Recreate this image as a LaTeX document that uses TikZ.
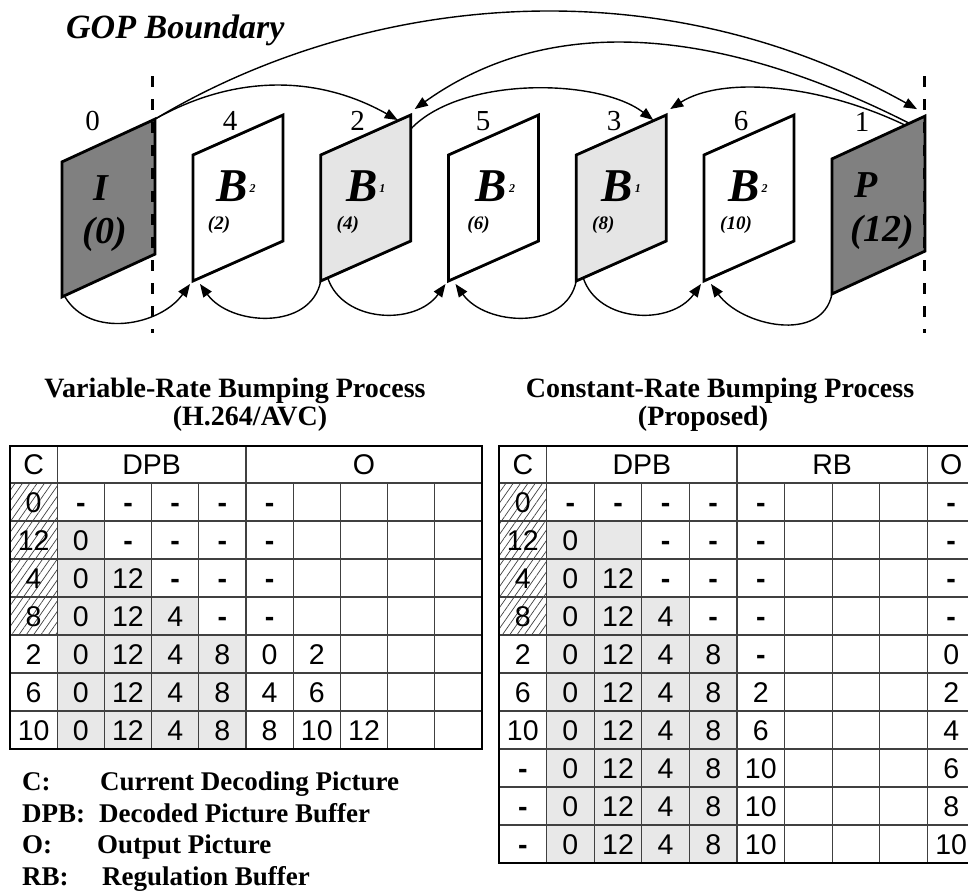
\documentclass[tikz,border=0pt]{standalone}
\usepackage{fontspec}
\setmainfont{Liberation Serif}
\newfontfamily\tabfont{Liberation Sans}
\usetikzlibrary{arrows.meta,patterns.meta}

\definecolor{keygray}{gray}{0.5}
\definecolor{bgray}{gray}{0.9}
\definecolor{cellgray}{gray}{0.91}

\newcommand{\tdash}{\textbf{-}}

\tikzset{
  framebase/.style={draw, line width=2.8pt, inner sep=0pt, outer sep=0pt},
  picframe/.style={framebase, minimum width=90pt, minimum height=126pt, yslant=0.444},
  keyframe/.style={framebase, fill=keygray, minimum width=93pt,
    minimum height=135pt, yslant=0.46},
  ordnum/.style={font=\fontsize{29}{29}\selectfont, inner sep=0pt, anchor=base},
  ptype/.style={font=\fontsize{38}{38}\selectfont\bfseries\itshape, inner sep=0pt},
  btype/.style={font=\fontsize{47}{47}\selectfont\bfseries\itshape, inner sep=0pt},
  dispnum/.style={font=\fontsize{19}{19}\selectfont\bfseries\itshape, inner sep=0pt},
  refarrow/.style={-{Triangle[length=13pt,width=10pt]}, line width=1.4pt},
  boundary/.style={line width=3pt, dash pattern=on 11pt off 12pt},
  heading/.style={font=\fontsize{28}{28}\selectfont\bfseries, inner sep=0pt, anchor=base},
  keytext/.style={font=\fontsize{27}{27}\selectfont\bfseries, inner sep=0pt, anchor=base west},
  cell/.style={font=\tabfont\fontsize{28.5}{28.5}\selectfont, inner sep=0pt,
    text height=20pt, text depth=0pt},
  thinrule/.style={line width=1.2pt, draw=black!75},
  tableborder/.style={line width=2.4pt},
  hatch/.style={pattern={Lines[angle=55,distance=6pt,line width=0.7pt]}, pattern color=black!75},
}

\begin{document}
\begin{tikzpicture}[x=1pt,y=-1pt]
\useasboundingbox (0,0) rectangle (968,892);
\clip (0,0) rectangle (968,892);

\node[font=\fontsize{34}{34}\selectfont\bfseries\itshape, inner sep=0pt, anchor=base west] (gop) at (66,38) {GOP Boundary};

% pictures in display order, named by coding order
\node[keyframe] (f0) at (108.5,208) {};
\node[picframe, fill=white] (f4) at (238,198) {};
\node[picframe, fill=bgray] (f2) at (365.75,198) {};
\node[picframe, fill=white] (f5) at (493.5,198) {};
\node[picframe, fill=bgray] (f3) at (621.25,198) {};
\node[picframe, fill=white] (f6) at (749,198) {};
\node[keyframe] (f1) at (878.5,205) {};

\node[ordnum] (o0) at (92.5,130) {0};
\node[ordnum] (o4) at (230,130) {4};
\node[ordnum] (o2) at (357.5,130) {2};
\node[ordnum] (o5) at (483,130) {5};
\node[ordnum] (o3) at (614,130) {3};
\node[ordnum] (o6) at (741,130) {6};
\node[ordnum] (o1) at (862,131) {1};

\node[ptype] (t0) at ([xshift=-7.5pt,yshift=20pt]f0.center) {I};
\node[ptype] (d0) at ([xshift=-3.5pt,yshift=-26pt]f0.center) {(0)};
\node[btype] (t4) at ([xshift=-2pt,yshift=12pt]f4.center) {B\kern2pt\raisebox{9pt}{\fontsize{12}{12}\selectfont 2}};
\node[dispnum] (d4) at ([xshift=-19pt,yshift=-27pt]f4.center) {(2)};
\node[btype] (t2) at ([xshift=0pt,yshift=12pt]f2.center) {B\kern2pt\raisebox{9pt}{\fontsize{12}{12}\selectfont 1}};
\node[dispnum] (d2) at ([xshift=-18pt,yshift=-27pt]f2.center) {(4)};
\node[btype] (t5) at ([xshift=2pt,yshift=12pt]f5.center) {B\kern2pt\raisebox{9pt}{\fontsize{12}{12}\selectfont 2}};
\node[dispnum] (d5) at ([xshift=-15pt,yshift=-27pt]f5.center) {(6)};
\node[btype] (t3) at ([xshift=0pt,yshift=12pt]f3.center) {B\kern2pt\raisebox{9pt}{\fontsize{12}{12}\selectfont 1}};
\node[dispnum] (d3) at ([xshift=-18pt,yshift=-27pt]f3.center) {(8)};
\node[btype] (t6) at ([xshift=-1pt,yshift=12pt]f6.center) {B\kern2pt\raisebox{9pt}{\fontsize{12}{12}\selectfont 2}};
\node[dispnum] (d6) at ([xshift=-13pt,yshift=-27pt]f6.center) {(10)};
\node[ptype] (t1) at ([xshift=-12.5pt,yshift=20pt]f1.center) {P};
\node[ptype] (d1) at ([xshift=3.5pt,yshift=-27pt]f1.center) {(12)};

% GOP boundaries
\draw[boundary] (152,76) -- (152,333);
\draw[boundary] (924,76) -- (924,333);

% references above the pictures
\draw[refarrow] (f0.north east) .. controls +(80,-45) and +(-80,-45) .. ([xshift=-13pt,yshift=-5pt]f2.north east);
\draw[refarrow] (f0.north east) .. controls +(200,-120) and +(-270,-150) .. ([xshift=-8pt,yshift=7pt]f1.north east);
\draw[refarrow] ([xshift=-16pt,yshift=-7pt]f1.north east) .. controls +(-200,-101) and +(130,-93) .. ([xshift=4pt,yshift=6pt]f2.north east);
\draw[refarrow] ([yshift=-14pt]f2.north east) .. controls +(50,-53) and +(-55,-42) .. ([xshift=-13pt,yshift=-5pt]f3.north east);
\draw[refarrow] ([xshift=-20pt,yshift=-9pt]f1.north east) .. controls +(-90,-43) and +(50,-32) .. ([xshift=4pt,yshift=6pt]f3.north east);

% references below the pictures
\draw[refarrow] ([xshift=3pt]f0.south west) .. controls +(25,42) and +(-30,42) .. ([xshift=-3pt,yshift=-3pt]f4.south west);
\draw[refarrow] (f2.south west) .. controls +(-10,50) and +(30,42) .. ([xshift=7pt,yshift=-3pt]f4.south west);
\draw[refarrow] ([xshift=7pt,yshift=3pt]f2.south west) .. controls +(15,45) and +(-30,42) .. ([xshift=-3pt,yshift=-3pt]f5.south west);
\draw[refarrow] (f3.south west) .. controls +(-10,50) and +(30,42) .. ([xshift=7pt,yshift=-3pt]f5.south west);
\draw[refarrow] ([xshift=7pt,yshift=3pt]f3.south west) .. controls +(15,45) and +(-30,42) .. ([xshift=-3pt,yshift=-3pt]f6.south west);
\draw[refarrow] (f1.south west) .. controls +(-10,50) and +(30,42) .. ([xshift=7pt,yshift=-3pt]f6.south west);

% headings
\node[heading] (vrh) at (235,397) {Variable-Rate Bumping Process};
\node[heading] (vrs) at (250,425) {(H.264/AVC)};
\node[heading] (crh) at (720,397) {Constant-Rate Bumping Process};
\node[heading] (crs) at (703,425) {(Proposed)};

% variable-rate table
\fill[cellgray] (57.2,521) -| (104.4,559) -| (151.6,597) -| (198.8,635) -| (246,749) -- (57.2,749) -- cycle;
\fill[hatch] (10,483) rectangle (57.2,635);
\foreach \j in {0,...,6}
  \draw[thinrule] (10,{483+38*\j}) -- (482,{483+38*\j});
\foreach \i in {1,...,9}
  \draw[thinrule] ({10+47.2*\i},483) -- ({10+47.2*\i},749);
\foreach \i in {1,5}
  \draw[thinrule] ({10+47.2*\i},446) -- ({10+47.2*\i},483);
\draw[tableborder] (10,446) rectangle (482,749);
\node[cell] (vh-c) at (33.6,464.5) {C};
\node[cell] (vh-dpb) at (151.6,464.5) {DPB};
\node[cell] (vh-o) at (364,464.5) {O};
\foreach \row [count=\j] in {
  {0,\tdash,\tdash,\tdash,\tdash,\tdash},
  {12,0,\tdash,\tdash,\tdash,\tdash},
  {4,0,12,\tdash,\tdash,\tdash},
  {8,0,12,4,\tdash,\tdash},
  {2,0,12,4,8,0,2},
  {6,0,12,4,8,4,6},
  {10,0,12,4,8,8,10,12}}
  \foreach \v [count=\i] in \row
    \node[cell] (v-\j-\i) at ({10+47.2*(\i-0.5)},{483+38*(\j-0.5)}) {\v};

% constant-rate table
\fill[cellgray] (546.6,521) -| (641.8,597) -| (689.4,635) -| (737,863) -- (546.6,863) -- cycle;
\fill[hatch] (499,483) rectangle (546.6,635);
\foreach \j in {0,...,9}
  \draw[thinrule] (499,{483+38*\j}) -- (975,{483+38*\j});
\foreach \i in {1,...,9}
  \draw[thinrule] ({499+47.6*\i},483) -- ({499+47.6*\i},863);
\foreach \i in {1,5,9}
  \draw[thinrule] ({499+47.6*\i},446) -- ({499+47.6*\i},483);
\draw[tableborder] (499,446) rectangle (975,863);
\node[cell] (ch-c) at (522.8,464.5) {C};
\node[cell] (ch-dpb) at (641.8,464.5) {DPB};
\node[cell] (ch-rb) at (832.2,464.5) {RB};
\node[cell] (ch-o) at (951.2,464.5) {O};
\foreach \row [count=\j] in {
  {0,\tdash,\tdash,\tdash,\tdash,\tdash},
  {12,0,{},\tdash,\tdash,\tdash},
  {4,0,12,\tdash,\tdash,\tdash},
  {8,0,12,4,\tdash,\tdash},
  {2,0,12,4,8,\tdash},
  {6,0,12,4,8,2},
  {10,0,12,4,8,6},
  {\tdash,0,12,4,8,10},
  {\tdash,0,12,4,8,10},
  {\tdash,0,12,4,8,10}}
  \foreach \v [count=\i] in \row
    \node[cell] (c-\j-\i) at ({499+47.6*(\i-0.5)},{483+38*(\j-0.5)}) {\v};
\foreach \v [count=\j] in {\tdash,\tdash,\tdash,\tdash,0,2,4,6,8,10}
  \node[cell] (c-\j-o) at (951.2,{483+38*(\j-0.5)}) {\v};

% key
\node[keytext] (kc) at (22,790) {C:};
\node[keytext] (kct) at (100,790) {Current Decoding Picture};
\node[keytext] (kd) at (22,822) {DPB:};
\node[keytext] (kdt) at (99,822) {Decoded Picture Buffer};
\node[keytext] (ko) at (22,853) {O:};
\node[keytext] (kot) at (97,853) {Output Picture};
\node[keytext] (kr) at (22,885) {RB:};
\node[keytext] (krt) at (102,885) {Regulation Buffer};
\end{tikzpicture}
\end{document}
